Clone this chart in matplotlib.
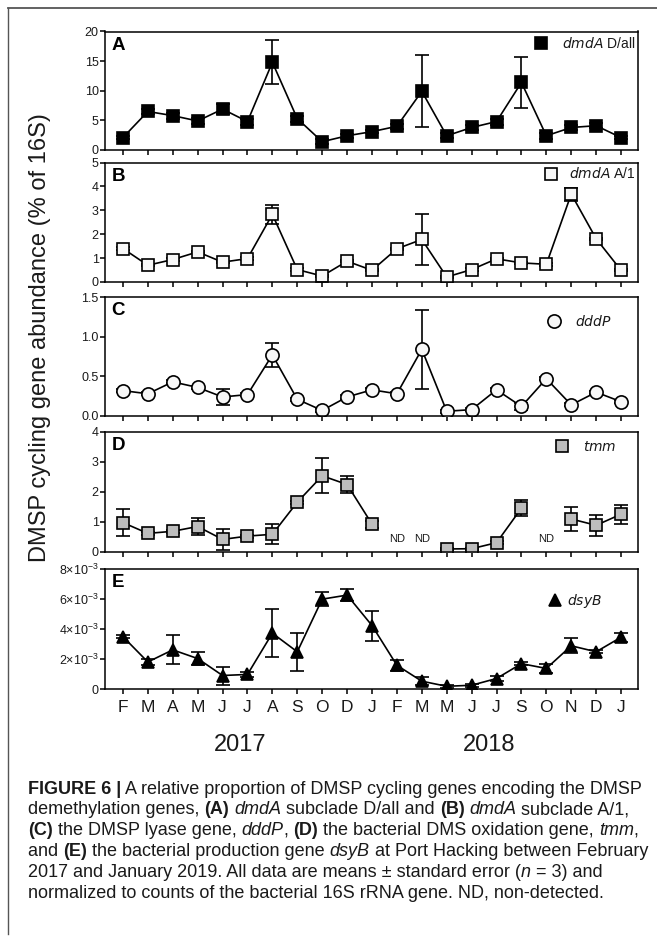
import numpy as np
import matplotlib
matplotlib.use('Agg')
import matplotlib.pyplot as plt
from matplotlib.lines import Line2D

plt.rcParams['font.family'] = ['Liberation Sans', 'DejaVu Sans']
plt.rcParams['mathtext.default'] = 'regular'

# ---------------- data ----------------
months = ['F', 'M', 'A', 'M', 'J', 'J', 'A', 'S', 'O', 'D', 'J',
          'F', 'M', 'M', 'J', 'J', 'S', 'O', 'N', 'D', 'J']
years = ['2017', '2018']
year_pos = [4.7, 14.7]

dmdA_D = [2.1, 6.5, 5.8, 4.9, 6.9, 4.8, 14.8, 5.3, 1.4, 2.4, 3.1,
          4.0, 9.9, 2.4, 3.8, 4.8, 11.4, 2.4, 3.8, 4.1, 2.1]
dmdA_D_err = [0.3, 0.5, 0.5, 0.5, 0.8, 0.5, 3.7, 0.5, 0.4, 0.3, 0.3,
              0.4, 6.1, 0.4, 0.5, 0.5, 4.35, 0.5, 0.4, 0.4, 0.3]

dmdA_A = [1.40, 0.70, 0.94, 1.26, 0.83, 0.98, 2.83, 0.52, 0.25, 0.87, 0.49,
          1.39, 1.78, 0.21, 0.52, 0.97, 0.80, 0.74, 3.68, 1.81, 0.49]
dmdA_A_err = [0.05, 0.05, 0.05, 0.05, 0.05, 0.05, 0.40, 0.05, 0.05, 0.05, 0.05,
              0.05, 1.05, 0.05, 0.05, 0.05, 0.05, 0.05, 0.27, 0.05, 0.05]

dddP = [0.32, 0.28, 0.43, 0.36, 0.24, 0.27, 0.77, 0.21, 0.07, 0.24, 0.33,
        0.28, 0.84, 0.06, 0.08, 0.33, 0.12, 0.47, 0.14, 0.30, 0.18]
dddP_err = [0.02, 0.02, 0.02, 0.02, 0.10, 0.02, 0.155, 0.02, 0.02, 0.02, 0.02,
            0.02, 0.50, 0.02, 0.02, 0.02, 0.05, 0.02, 0.02, 0.02, 0.02]

tmm = [0.98, 0.62, 0.69, 0.85, 0.42, 0.53, 0.59, 1.66, 2.54, 2.25, 0.93,
       np.nan, np.nan, 0.10, 0.11, 0.31, 1.46, np.nan, 1.10, 0.89, 1.26]
tmm_err = [0.45, 0.05, 0.05, 0.27, 0.35, 0.05, 0.33, 0.05, 0.58, 0.27, 0.12,
           np.nan, np.nan, 0.03, 0.03, 0.05, 0.26, np.nan, 0.41, 0.34, 0.32]
tmm_nd = [11, 12, 17]

dsyB = [3.49e-3, 1.80e-3, 2.61e-3, 2.03e-3, 0.90e-3, 0.97e-3, 3.72e-3, 2.48e-3,
        5.99e-3, 6.26e-3, 4.23e-3, 1.58e-3, 0.52e-3, 0.18e-3, 0.25e-3, 0.70e-3,
        1.69e-3, 1.37e-3, 2.88e-3, 2.48e-3, 3.45e-3]
dsyB_err = [0.10e-3, 0.20e-3, 0.97e-3, 0.45e-3, 0.60e-3, 0.18e-3, 1.60e-3, 1.28e-3,
            0.45e-3, 0.38e-3, 1.00e-3, 0.35e-3, 0.25e-3, 0.10e-3, 0.10e-3, 0.15e-3,
            0.10e-3, 0.30e-3, 0.50e-3, 0.10e-3, 0.30e-3]

panel_letters = ['A', 'B', 'C', 'D', 'E']
legend_labels = [[('dmdA', 'i'), (' D/all', '')], [('dmdA', 'i'), (' A/1', '')],
                 [('dddP', 'i')], [('tmm', 'i')], [('dsyB', 'i')]]
yticks = [[0, 5, 10, 15, 20], [0, 1, 2, 3, 4, 5], [0.0, 0.5, 1.0, 1.5],
          [0, 1, 2, 3, 4], [0, 2e-3, 4e-3, 6e-3, 8e-3]]
yticklabels = [['0', '5', '10', '15', '20'], ['0', '1', '2', '3', '4', '5'],
               ['0.0', '0.5', '1.0', '1.5'], ['0', '1', '2', '3', '4'],
               ['0', r'2×10$^{-3}$', r'4×10$^{-3}$', r'6×10$^{-3}$', r'8×10$^{-3}$']]

# ---------------- layout ----------------
W, H = 657, 936
fig = plt.figure(figsize=(W / 100, H / 100), dpi=100)
TXT = '#1a1a1a'

ax_left, ax_right = 105, 638
panel_tb = [(31.5, 150), (162.5, 282), (297, 416), (432, 552), (569, 689)]

series = [
    (dmdA_D, dmdA_D_err, dict(marker='s', mfc='black', ms=9)),
    (dmdA_A, dmdA_A_err, dict(marker='s', mfc='#f7f7f7', ms=9)),
    (dddP, dddP_err, dict(marker='o', mfc='#f7f7f7', ms=9.5)),
    (tmm, tmm_err, dict(marker='s', mfc='#bdbdbd', ms=9)),
    (dsyB, dsyB_err, dict(marker='^', mfc='black', ms=9)),
]
# legend placement (marker centre x in px, centre y px below top, text pad)
leg_pos = [(541, 11.5, 1.0), (551, 11.5, 0.8), (554, 24, 1.0), (562, 15, 1.0), (555, 32, 0.4)]

x = np.arange(len(months))
axes = []
for i, (top, bot) in enumerate(panel_tb):
    ax = fig.add_axes([ax_left / W, 1 - bot / H, (ax_right - ax_left) / W, (bot - top) / H])
    axes.append(ax)
    vals, errs, st = series[i]
    ax.errorbar(x, vals, yerr=errs, color='black', lw=1.2, elinewidth=1.2,
                capsize=5.2, capthick=1.2, mec='black', mew=1.2, **st)
    ax.set_xlim(-0.72, 20.68)
    ax.set_ylim(yticks[i][0], yticks[i][-1])
    ax.set_yticks(yticks[i])
    ax.set_yticklabels(yticklabels[i])
    ax.set_xticks(x)
    if i == 4:
        ax.set_xticklabels(months, fontsize=12.5, color=TXT)
    else:
        ax.set_xticklabels([])
    ax.tick_params(axis='both', direction='out', length=3.8, width=1.1, color='black')
    ax.tick_params(axis='y', labelsize=9, pad=0.8, labelcolor=TXT)
    ax.tick_params(axis='x', pad=4)
    for s in ax.spines.values():
        s.set_linewidth(1.1)
    ax.text(0.012, 0.955, panel_letters[i], transform=ax.transAxes, fontsize=13.5,
            fontweight='bold', va='top', ha='left', color='black')
    # legend
    mx, dy, pad = leg_pos[i]
    handle = Line2D([], [], ls='none', color='black', mec='black', mew=1.2, **st)
    lab = ''.join(r'$\it{%s}$' % t if s == 'i' else t for t, s in legend_labels[i])
    leg = ax.legend([handle], [lab], loc='center left', frameon=False, fontsize=10,
                    handlelength=1.0, handletextpad=pad, borderpad=0, borderaxespad=0,
                    bbox_to_anchor=((mx - 7 - ax_left) / (ax_right - ax_left),
                                    1 - dy / (bot - top)))
    for t in leg.get_texts():
        t.set_color(TXT)

for idx in tmm_nd:
    axes[3].text(idx, 0.43, 'ND', ha='center', va='center', fontsize=8, color=TXT)

for yp, yr in zip(year_pos, years):
    axes[4].text(yp, -0.47, yr, transform=axes[4].get_xaxis_transform(),
                 ha='center', va='center', fontsize=17, color=TXT)

fig.text(40 / W, 1 - 338 / H, 'DMSP cycling gene abundance (% of 16S)', rotation=90,
         ha='center', va='center', fontsize=17, color=TXT)

# frame
fig.add_artist(Line2D([8 / W, 1], [1 - 8 / H, 1 - 8 / H], transform=fig.transFigure,
                      color='#555555', lw=1.3))
fig.add_artist(Line2D([8 / W, 8 / W], [1 - 8 / H, 1 - 934 / H], transform=fig.transFigure,
                      color='#555555', lw=1.0))

# ---------------- caption ----------------
caption = [
    [('FIGURE 6 |', 'b'), (' A relative proportion of DMSP cycling genes encoding the DMSP', '')],
    [('demethylation genes, ', ''), ('(A)', 'b'), (' ', ''), ('dmdA', 'i'),
     (' subclade D/all and ', ''), ('(B)', 'b'), (' ', ''), ('dmdA', 'i'), (' subclade A/1,', '')],
    [('(C)', 'b'), (' the DMSP lyase gene, ', ''), ('dddP', 'i'), (', ', ''), ('(D)', 'b'),
     (' the bacterial DMS oxidation gene, ', ''), ('tmm', 'i'), (',', '')],
    [('and ', ''), ('(E)', 'b'), (' the bacterial production gene ', ''), ('dsyB', 'i'),
     (' at Port Hacking between February', '')],
    [('2017 and January 2019. All data are means ± standard error (', ''), ('n', 'i'),
     (' = 3) and', '')],
    [('normalized to counts of the bacterial 16S rRNA gene. ND, non-detected.', '')],
]

fig.canvas.draw()
renderer = fig.canvas.get_renderer()


def seg_width(txt, style, size):
    kw = dict(fontsize=size, fontweight='bold' if 'b' in style else 'normal',
              fontstyle='italic' if 'i' in style else 'normal')
    t1 = fig.text(0, 0, '|' + txt + '|', **kw)
    t2 = fig.text(0, 0, '||', **kw)
    w = t1.get_window_extent(renderer).width - t2.get_window_extent(renderer).width
    t1.remove(); t2.remove()
    return w, kw


cap_x0 = 28
target_w = 615
base = 12.0
w1 = sum(seg_width(t, s, base)[0] for t, s in caption[0])
cap_size = base * target_w / w1

for li, line in enumerate(caption):
    y = 789 + 20.8 * li
    xpos = cap_x0
    for txt, style in line:
        w, kw = seg_width(txt, style, cap_size)
        fig.text(xpos / W, 1 - y / H, txt, ha='left', va='center', color=TXT, **kw)
        xpos += w

fig.savefig('out.png', dpi=100)
